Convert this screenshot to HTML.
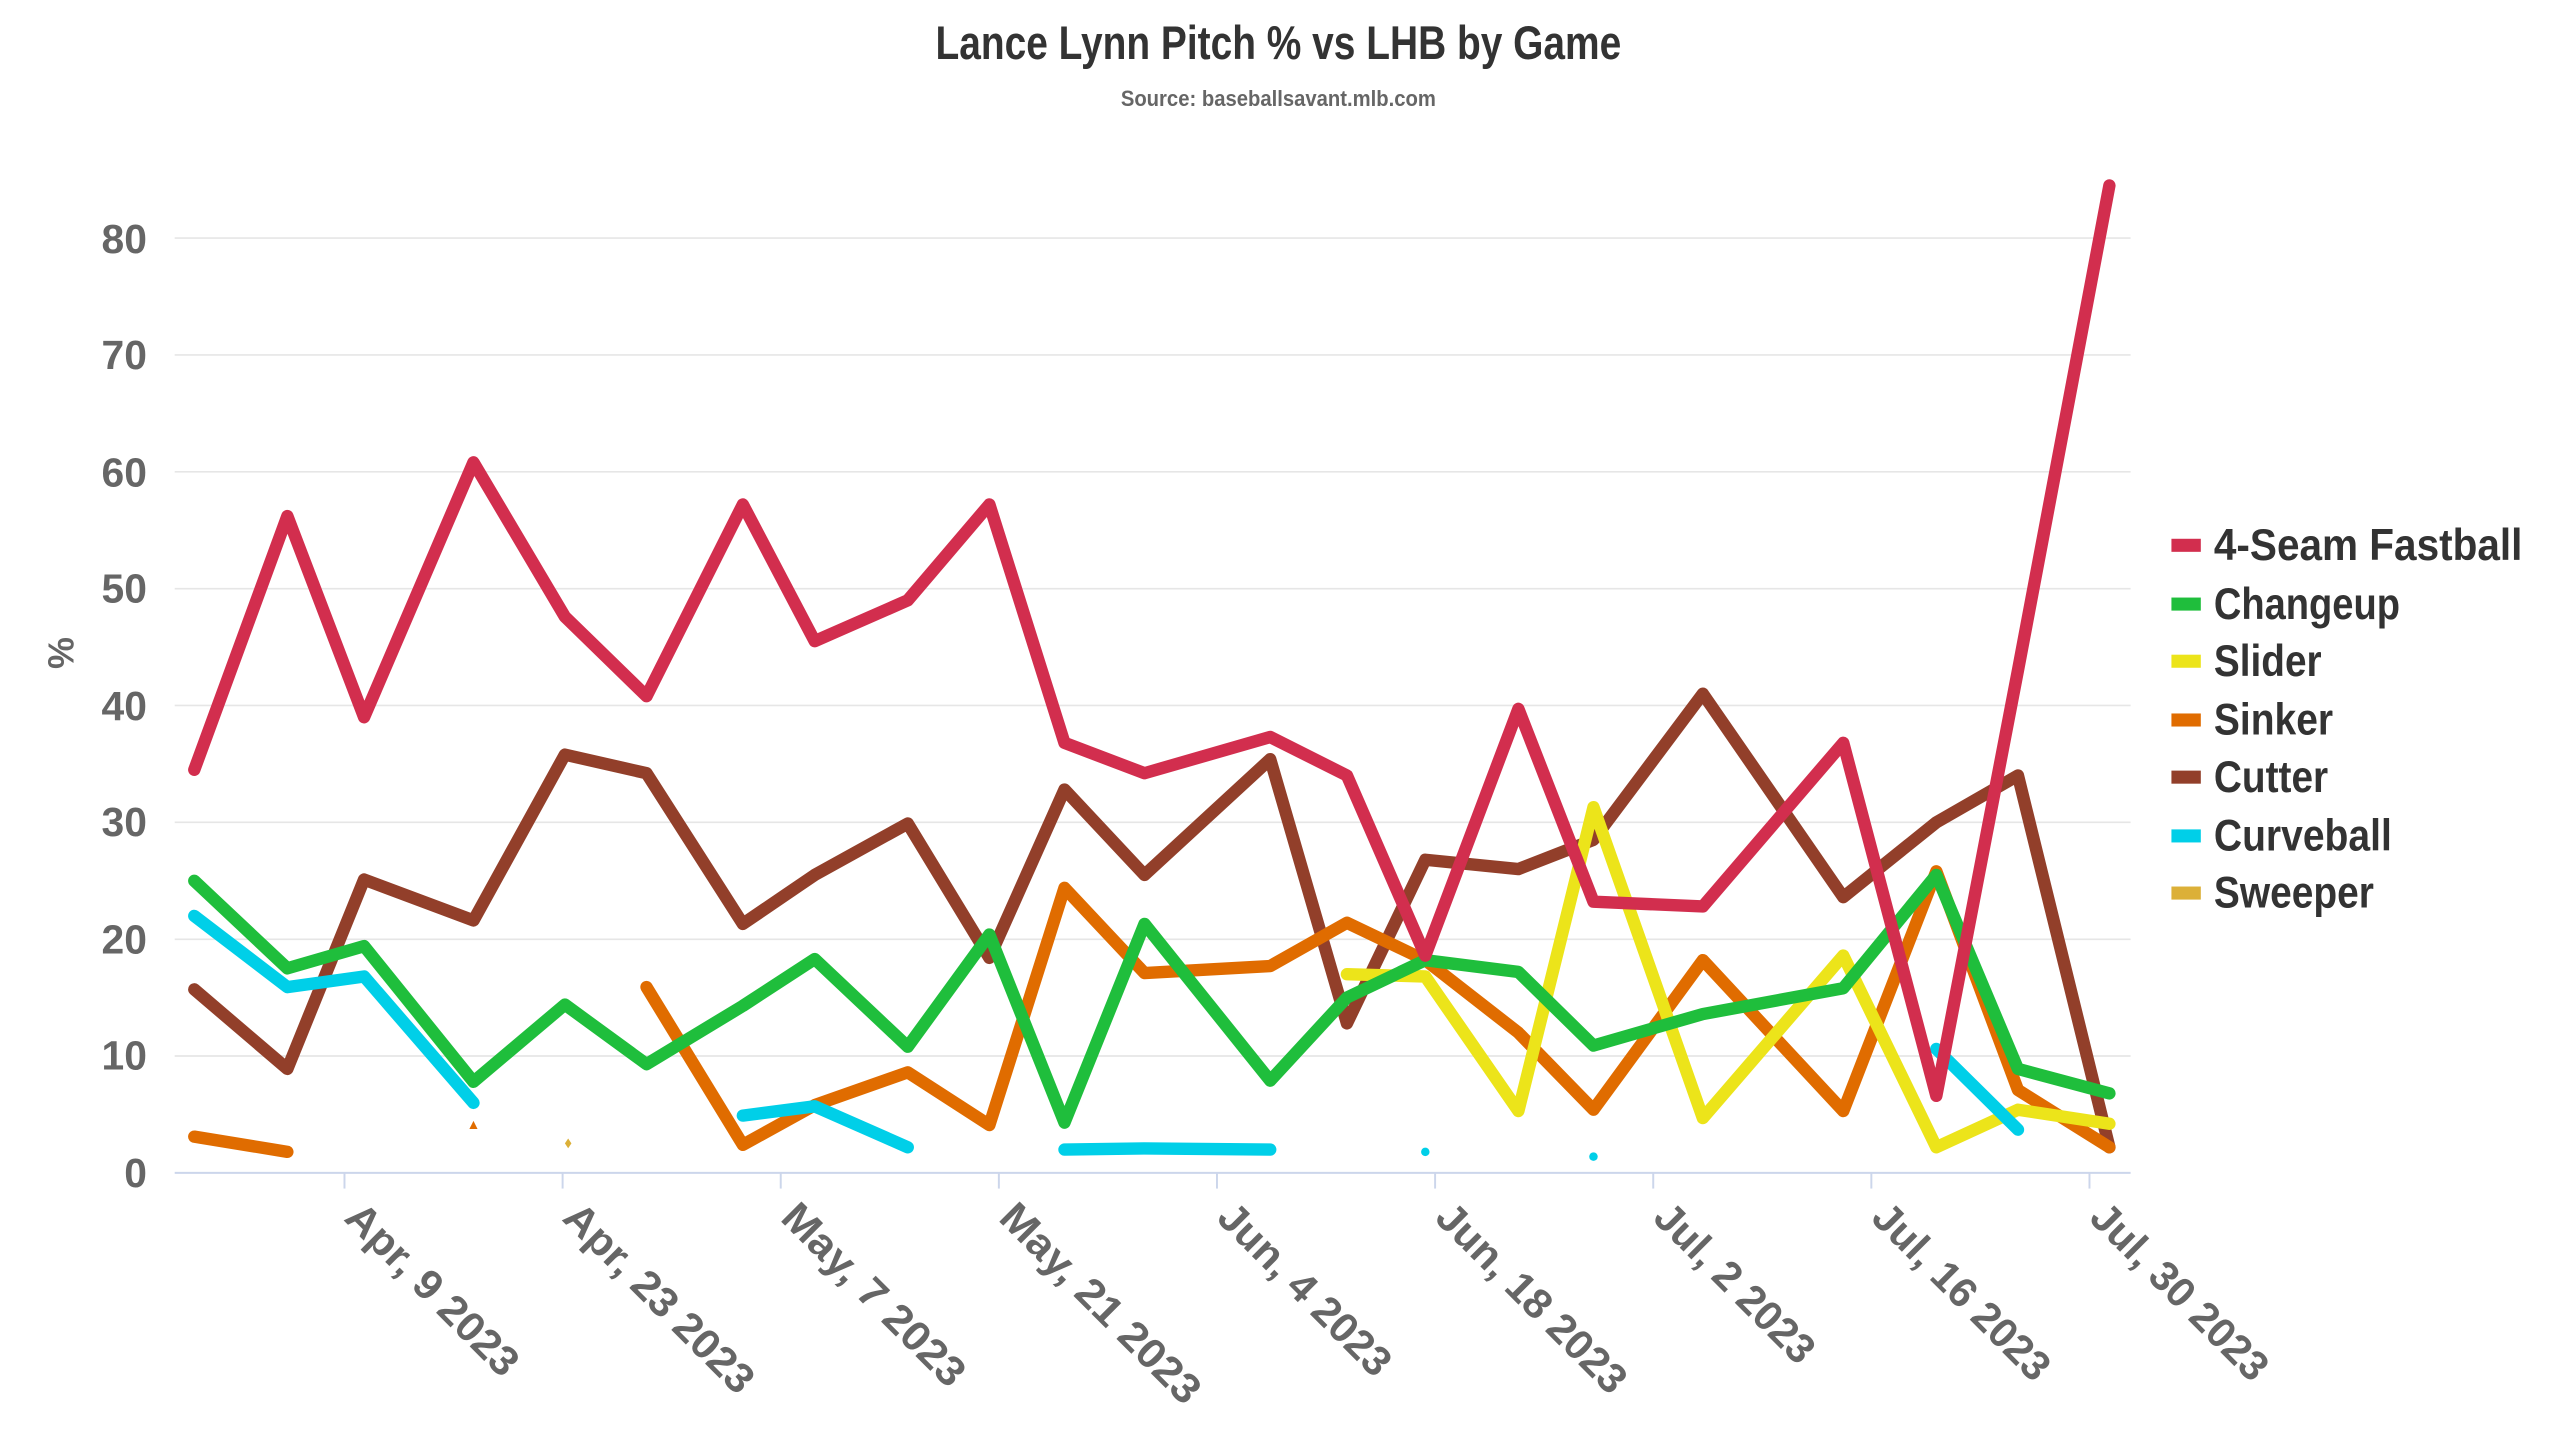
<!DOCTYPE html>
<html><head><meta charset="utf-8"><style>
html,body{margin:0;padding:0;background:#fff;}
svg{display:block;}
text{font-family:"Liberation Sans Narrow","Liberation Sans",sans-serif;font-weight:bold;}
</style></head><body>
<svg width="2560" height="1440" viewBox="0 0 1568 882" xmlns="http://www.w3.org/2000/svg">
<rect width="1568" height="882" fill="#fff"/>
<text x="783" y="36" text-anchor="middle" font-size="29" fill="#333" textLength="420" lengthAdjust="spacingAndGlyphs">Lance Lynn Pitch % vs LHB by Game</text>
<text x="783" y="65" text-anchor="middle" font-size="13.5" fill="#666" textLength="193" lengthAdjust="spacingAndGlyphs">Source: baseballsavant.mlb.com</text>
<g stroke="#e6e6e6" stroke-width="1">
<line x1="107" x2="1305" y1="145.8" y2="145.8"/>
<line x1="107" x2="1305" y1="217.4" y2="217.4"/>
<line x1="107" x2="1305" y1="289" y2="289"/>
<line x1="107" x2="1305" y1="360.6" y2="360.6"/>
<line x1="107" x2="1305" y1="432.1" y2="432.1"/>
<line x1="107" x2="1305" y1="503.7" y2="503.7"/>
<line x1="107" x2="1305" y1="575.3" y2="575.3"/>
<line x1="107" x2="1305" y1="646.8" y2="646.8"/>
</g>
<g stroke="#ccd6eb" stroke-width="1.2">
<line x1="107" x2="1305" y1="718.4" y2="718.4"/>
<line x1="211" x2="211" y1="718" y2="728"/>
<line x1="344.6" x2="344.6" y1="718" y2="728"/>
<line x1="478.2" x2="478.2" y1="718" y2="728"/>
<line x1="611.8" x2="611.8" y1="718" y2="728"/>
<line x1="745.4" x2="745.4" y1="718" y2="728"/>
<line x1="879" x2="879" y1="718" y2="728"/>
<line x1="1012.6" x2="1012.6" y1="718" y2="728"/>
<line x1="1146.2" x2="1146.2" y1="718" y2="728"/>
<line x1="1279.8" x2="1279.8" y1="718" y2="728"/>
</g>
<g font-size="25" fill="#666" text-anchor="end">
<text x="90" y="155">80</text><text x="90" y="226">70</text><text x="90" y="298">60</text>
<text x="90" y="369">50</text><text x="90" y="441">40</text><text x="90" y="512">30</text>
<text x="90" y="584">20</text><text x="90" y="655">10</text><text x="90" y="727">0</text>
</g>
<text transform="translate(45,400) rotate(-90)" text-anchor="middle" font-size="22" fill="#666">%</text>
<g font-size="25.5" fill="#666">
<text transform="translate(210,747) rotate(45)" textLength="138" lengthAdjust="spacingAndGlyphs">Apr, 9 2023</text>
<text transform="translate(343.6,747) rotate(45)" textLength="153" lengthAdjust="spacingAndGlyphs">Apr, 23 2023</text>
<text transform="translate(477.2,747) rotate(45)" textLength="147" lengthAdjust="spacingAndGlyphs">May, 7 2023</text>
<text transform="translate(610.8,747) rotate(45)" textLength="162" lengthAdjust="spacingAndGlyphs">May, 21 2023</text>
<text transform="translate(744.4,747) rotate(45)" textLength="138" lengthAdjust="spacingAndGlyphs">Jun, 4 2023</text>
<text transform="translate(878,747) rotate(45)" textLength="153" lengthAdjust="spacingAndGlyphs">Jun, 18 2023</text>
<text transform="translate(1011.6,747) rotate(45)" textLength="127" lengthAdjust="spacingAndGlyphs">Jul, 2 2023</text>
<text transform="translate(1145.2,747) rotate(45)" textLength="142" lengthAdjust="spacingAndGlyphs">Jul, 16 2023</text>
<text transform="translate(1278.8,747) rotate(45)" textLength="142" lengthAdjust="spacingAndGlyphs">Jul, 30 2023</text>
</g>
<g fill="none" stroke-width="7.6" stroke-linecap="round" stroke-linejoin="round">
<polyline stroke="#923f2a" points="119,606.0 176,654.7 223,538.7 290,563.8 346,462.2 396,473.6 455,565.9 499,535.9 556,504.4 606,586.7 652,483.6 701,535.9 778,465.0 825,626.8 873,526.6 930,532.3 976,514.4 1043,424.9 1129,549.5 1186,503.7 1236,475.0 1292,702.7"/>
<polyline stroke="#e06c00" points="119,696.2 176,705.5"/>
<polyline stroke="#e06c00" points="396,604.6 455,701.2 499,676.9 556,656.8 606,689.1 652,543.8 701,596.0 778,591.7 825,565.2 873,588.1 930,632.5 976,679.7 1043,588.1 1129,680.5 1186,533.7 1236,667.6 1292,702.7"/>
<polyline stroke="#ece41a" points="825,596.7 873,598.1 930,680.5 976,494.4 1043,684.8 1129,585.3 1186,702.7 1236,679.7 1292,688.3"/>
<polyline stroke="#1fbe3c" points="119,539.5 176,593.1 223,579.5 290,662.6 346,615.3 396,651.8 455,616.1 499,587.4 556,641.1 606,572.4 652,687.6 701,565.9 778,661.9 825,611.0 873,588.1 930,595.3 976,640.4 1043,621.1 1129,605.3 1186,535.9 1236,654.7 1292,669.7"/>
<polyline stroke="#00cfe8" points="119,561.0 176,604.6 223,598.1 290,675.5"/>
<polyline stroke="#00cfe8" points="455,683.3 499,677.6 556,702.7"/>
<polyline stroke="#00cfe8" points="652,704.1 701,703.4 778,704.1"/>
<polyline stroke="#00cfe8" points="1186,642.5 1236,691.9"/>
<polyline stroke="#d22e4e" points="119,471.5 176,316.1 223,439.3 290,283.2 346,377.7 396,426.4 455,309.0 499,392.7 556,367.7 606,309.0 652,455.0 701,473.6 778,451.4 825,475.0 873,585.3 930,434.2 976,552.3 1043,555.2 1129,455.0 1186,671.2 1236,410.6 1292,113.6"/>
</g>
<circle cx="873" cy="705.5" r="2.6" fill="#00cfe8"/>
<circle cx="976" cy="708.4" r="2.6" fill="#00cfe8"/>
<polygon points="290,686.5 287.5,691.5 292.5,691.5" fill="#e06c00"/>
<polygon points="348,697.3 350,700.3 348,703.3 346,700.3" fill="#dcb038"/>
<g>
<rect x="1330" y="330" width="18" height="8" fill="#d22e4e"/>
<rect x="1330" y="366" width="18" height="8" fill="#1fbe3c"/>
<rect x="1330" y="401" width="18" height="8" fill="#ece41a"/>
<rect x="1330" y="437" width="18" height="8" fill="#e06c00"/>
<rect x="1330" y="472" width="18" height="8" fill="#923f2a"/>
<rect x="1330" y="508" width="18" height="8" fill="#00cfe8"/>
<rect x="1330" y="543" width="18" height="8" fill="#dcb038"/>
</g>
<g font-size="27" fill="#333">
<text x="1356" y="343" textLength="189" lengthAdjust="spacingAndGlyphs">4-Seam Fastball</text>
<text x="1356" y="379" textLength="114" lengthAdjust="spacingAndGlyphs">Changeup</text>
<text x="1356" y="414" textLength="66" lengthAdjust="spacingAndGlyphs">Slider</text>
<text x="1356" y="450" textLength="73" lengthAdjust="spacingAndGlyphs">Sinker</text>
<text x="1356" y="485" textLength="70" lengthAdjust="spacingAndGlyphs">Cutter</text>
<text x="1356" y="521" textLength="109" lengthAdjust="spacingAndGlyphs">Curveball</text>
<text x="1356" y="556" textLength="98" lengthAdjust="spacingAndGlyphs">Sweeper</text>
</g>
</svg>
</body></html>
